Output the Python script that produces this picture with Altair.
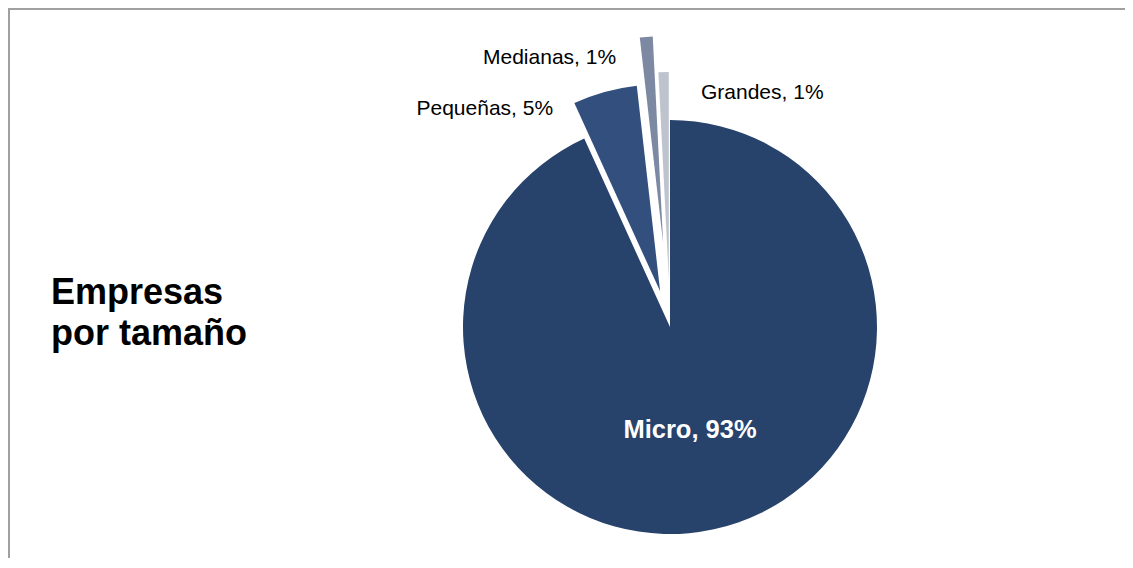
import math
import altair as alt
import pandas as pd

# ---- data ----
categories = ["Micro", "Pequeñas", "Medianas", "Grandes"]
shares = [93.2, 5.0, 1.0, 0.8]
title_lines = ["Empresas", "por tamaño"]

# ---- style ----
colors = ["#27426B", "#324F7D", "#7D88A2", "#BFC3CE"]
W, H = 1117, 550
CX, CY, R = 662, 319, 207
explode = [0, 37, 84, 48]
FONT = "Liberation Sans"
# label anchors (x, y, align) per category
label_pos = {
    "Micro": (682, 430, "center"),
    "Pequeñas": (408.5, 107, "left"),
    "Medianas": (475, 56, "left"),
    "Grandes": (693, 91, "left"),
}

total = sum(shares)
rows = []
acc = 0.0
for c, v, e in zip(categories, shares, explode):
    start, end = acc, acc + v
    acc = end
    mid = (start + end) / 2 / total * 2 * math.pi
    lx, ly, al = label_pos[c]
    rows.append(dict(cat=c, start=start, end=end,
                     cx=CX + e * math.sin(mid), cy=CY - e * math.cos(mid),
                     label=f"{c}, {round(v)}%", lx=lx, ly=ly, align=al))
df = pd.DataFrame(rows)

base = alt.Chart(df)

pie = base.mark_arc(radius=R).encode(
    x=alt.X("cx:Q", scale=None, axis=None),
    y=alt.Y("cy:Q", scale=None, axis=None),
    theta=alt.Theta("start:Q", scale=alt.Scale(domain=[0, total], range=[0, 2 * math.pi]), stack=False),
    theta2="end:Q",
    color=alt.Color("cat:N", scale=alt.Scale(domain=categories, range=colors), legend=None),
)

outer_labels = base.transform_filter(alt.datum.cat != "Micro").mark_text(
    font=FONT, fontSize=21, color="#000000", align="left", baseline="alphabetic"
).encode(
    x=alt.X("lx:Q", scale=None, axis=None),
    y=alt.Y("ly:Q", scale=None, axis=None),
    text="label:N",
)

micro_label = base.transform_filter(alt.datum.cat == "Micro").mark_text(
    font=FONT, fontSize=25.5, fontWeight="bold", color="#FFFFFF", align="center", baseline="alphabetic"
).encode(
    x=alt.X("lx:Q", scale=None, axis=None),
    y=alt.Y("ly:Q", scale=None, axis=None),
    text="label:N",
)

title = alt.Chart(pd.DataFrame({"t": ["\n".join(title_lines)]})).mark_text(
    font=FONT, fontSize=36, fontWeight="bold", color="#000000", align="left",
    baseline="alphabetic", lineBreak="\n", lineHeight=41
).encode(x=alt.value(43), y=alt.value(296), text="t:N")

border_top = alt.Chart(pd.DataFrame({"a": [0]})).mark_rule(color="#A0A0A0", strokeWidth=2).encode(
    x=alt.value(0), x2=alt.value(W), y=alt.value(1)
)
border_left = alt.Chart(pd.DataFrame({"a": [0]})).mark_rule(color="#A0A0A0", strokeWidth=2).encode(
    x=alt.value(1), y=alt.value(0), y2=alt.value(H)
)

chart = alt.layer(pie, outer_labels, micro_label, title, border_top, border_left).properties(
    width=W, height=H, autosize=alt.AutoSizeParams(type="none"), padding=0
).configure_view(stroke=None)

chart.save("out.html", embed_options={"renderer": "svg", "actions": False})
